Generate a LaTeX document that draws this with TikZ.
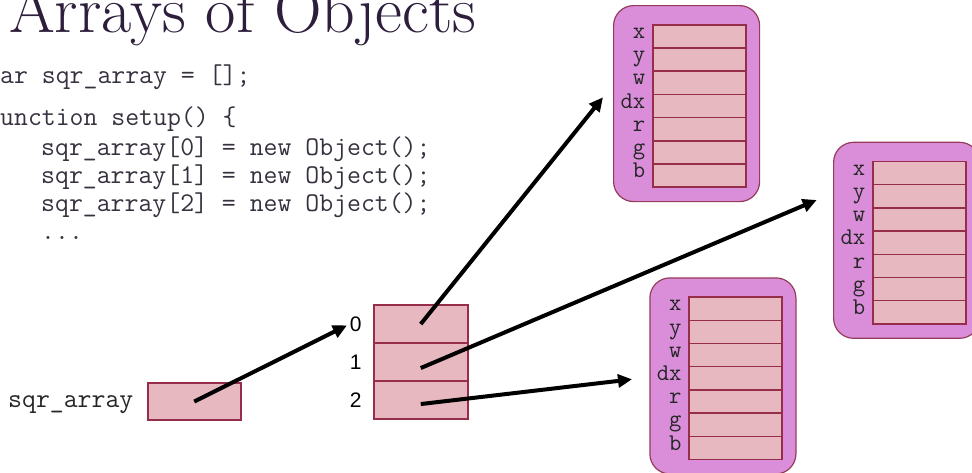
\documentclass[tikz,border=0pt]{standalone}
\usepackage{fontspec}
\setsansfont{Liberation Sans}
\usetikzlibrary{arrows.meta}
\definecolor{objfill}{RGB}{218,142,218}
\definecolor{objdraw}{RGB}{150,60,90}
\definecolor{cellfill}{RGB}{232,184,192}
\definecolor{celldraw}{RGB}{150,45,75}
\definecolor{titlecol}{RGB}{45,30,60}
\definecolor{codecol}{RGB}{55,48,62}
\tikzset{
  codetext/.style={font=\fontsize{27}{30}\selectfont\ttfamily, text=codecol, inner sep=0pt, anchor=base west},
  monolabel/.style={font=\fontsize{27}{30}\selectfont\ttfamily, text=black!85, inner sep=0pt},
  fieldlabel/.style={font=\fontsize{24}{26}\selectfont\ttfamily, text=black!85, inner sep=0pt},
  digit/.style={font=\fontsize{21}{24}\selectfont\sffamily, text=black, inner sep=0pt},
  objbox/.style={draw=objdraw, fill=objfill, line width=1.2pt, rounded corners=20pt, minimum width=146pt, minimum height=196pt, inner sep=0pt, anchor=north west},
  cellbox/.style={draw=celldraw, fill=cellfill, line width=1.5pt, minimum width=93pt, minimum height=23.2pt, inner sep=0pt, anchor=north west},
  conn/.style={line width=4pt, -{Triangle[length=14pt,width=13pt]}}
}
\begin{document}
\begin{tikzpicture}[x=1pt,y=-1pt]
\useasboundingbox (0,0) rectangle (972,472);
% title
\node[anchor=base west, font=\fontsize{66}{66}\selectfont, text=titlecol, inner sep=0pt] (title) at (9,32) {Arrays of Objects};
% code
\node[codetext] (c1) at (0,83.3) {ar sqr\_array = [];};
\node[codetext] (c2) at (0,125) {unction setup() \{};
\node[codetext] (c3) at (41,155) {sqr\_array[0] = new Object();};
\node[codetext] (c4) at (41,183.3) {sqr\_array[1] = new Object();};
\node[codetext] (c5) at (41,211.3) {sqr\_array[2] = new Object();};
\node[codetext] (c6) at (41,239) {...};
% variable
\node[cellbox, minimum width=93pt, minimum height=37pt] (var) at (147,382.3) {};
\node[monolabel, anchor=base west] (varlab) at (8,407.7) {sqr\_array};
% array
\node[cellbox, minimum width=94pt, minimum height=38pt] (a0) at (373,304.3) {};
\node[cellbox, minimum width=94pt, minimum height=38pt] (a1) at (373,342.3) {};
\node[cellbox, minimum width=94pt, minimum height=38pt] (a2) at (373,380.3) {};
\node[digit, anchor=east] (d0) at ([xshift=-11.3pt]a0.west) {0};
\node[digit, anchor=east] (d1) at ([xshift=-11.3pt]a1.west) {1};
\node[digit, anchor=east] (d2) at ([xshift=-11.3pt]a2.west) {2};
% objects
\foreach \n/\L/\T in {1/613/5, 2/833/141.7, 3/649.3/277.3} {
  \node[objbox] (obj\n) at (\L,\T) {};
  \foreach \f [count=\i from 0] in {x,y,w,dx,r,g,b} {
    \node[cellbox] (obj\n\f) at (\L+39,\T+19+\i*23.2) {};
    \node[fieldlabel, anchor=mid east] (lab\n\f) at ([xshift=-6.5pt]obj\n\f.west) {\f};
  }
}
% arrow tips
\coordinate (t0) at (603,97.3);
\coordinate (t1) at (816.7,200);
\coordinate (t2) at (632,379.3);
% connectors
\draw[conn, shorten >=3pt] (var.center) -- (d0.west);
\draw[conn] (a0.center) -- (t0);
\draw[conn] ([yshift=-6pt]a1.center) -- (t1);
\draw[conn] ([yshift=-4pt]a2.center) -- (t2);
\end{tikzpicture}
\end{document}
